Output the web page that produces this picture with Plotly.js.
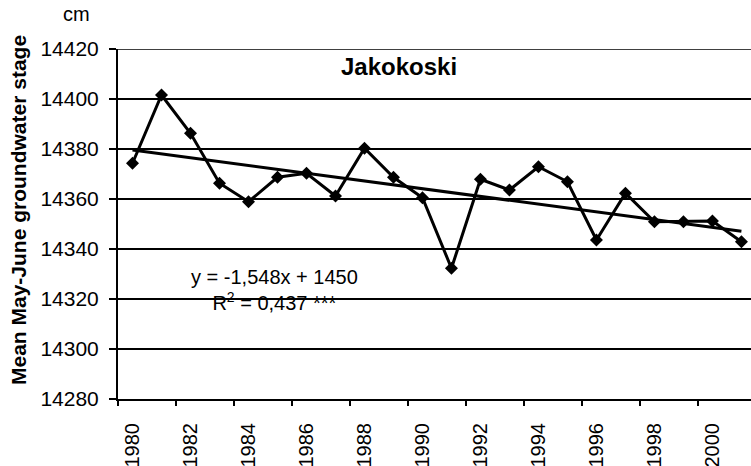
<!DOCTYPE html>
<html>
<head>
<meta charset="utf-8">
<script src="https://cdn.plot.ly/plotly-3.0.1.min.js"></script>
<style>html,body{margin:0;padding:0;background:#fff;}#chart{width:751px;height:466px;}</style>
</head>
<body>
<div id="chart"></div>
<script>
const years = [1980,1981,1982,1983,1984,1985,1986,1987,1988,1989,1990,1991,1992,1993,1994,1995,1996,1997,1998,1999,2000,2001];
const stage = [14374.3,14401.6,14386.3,14366.3,14358.9,14368.7,14370.3,14361.2,14380.3,14368.7,14360.5,14332.3,14367.9,14363.6,14372.9,14366.9,14343.6,14362.3,14350.9,14350.9,14351.2,14342.9];
const trendX = [1980, 2001];
const trendY = [14379.6, 14347.1];
const labelYears = [1980,1982,1984,1986,1988,1990,1992,1994,1996,1998,2000];
const tickMarks = [1979.5,1981.5,1983.5,1985.5,1987.5,1989.5,1991.5,1993.5,1995.5,1997.5,1999.5,2001.5];
const yTicks = [14280,14300,14320,14340,14360,14380,14400,14420];
const titleText = 'Jakokoski';
const yTitle = 'Mean May-June groundwater stage';
const unitText = 'cm';
const eqText = 'y = -1,548x + 1450<br>R<sup>2</sup> = 0,437 ***';

const FONT = 'Liberation Sans, Arial, sans-serif';
const xr = [1979.5, 2001.33];
const yr = [14280, 14420];

const data = [
  {x: years, y: stage, type: 'scatter', mode: 'lines+markers',
   line: {color: '#000', width: 3}, marker: {symbol: 'diamond', size: 10, color: '#000'},
   xaxis: 'x', yaxis: 'y', hoverinfo: 'skip'},
  {x: trendX, y: trendY, type: 'scatter', mode: 'lines',
   line: {color: '#000', width: 3}, xaxis: 'x2', yaxis: 'y', hoverinfo: 'skip'}
];

const layout = {
  width: 751, height: 466,
  margin: {l: 118, r: 0, t: 49, b: 67},
  paper_bgcolor: '#fff', plot_bgcolor: '#fff',
  showlegend: false,
  font: {family: FONT, color: '#000', size: 20},
  xaxis: {
    range: xr, tickmode: 'array', tickvals: labelYears, ticktext: labelYears.map(String),
    ticks: '', tickangle: -90, showgrid: false, zeroline: false,
    showline: true, linecolor: '#000', linewidth: 2,
    tickfont: {family: FONT, size: 20, color: '#000'}, ticklabelstandoff: 14
  },
  xaxis2: {
    range: xr, overlaying: 'x', tickmode: 'array', tickvals: tickMarks,
    ticks: 'outside', ticklen: 6, tickwidth: 1.5, tickcolor: '#000',
    showticklabels: false, showgrid: false, zeroline: false, showline: false
  },
  yaxis: {
    range: yr, tickmode: 'array', tickvals: yTicks, ticktext: yTicks.map(String),
    ticks: 'outside', ticklen: 7, tickwidth: 1.5, tickcolor: '#000',
    showgrid: true, gridcolor: '#000', gridwidth: 1.5, zeroline: false,
    showline: true, linecolor: '#000', linewidth: 2,
    tickfont: {family: FONT, size: 21, color: '#000'}, ticklabelstandoff: 6
  },
  shapes: [
    {type: 'line', xref: 'paper', yref: 'y', x0: 0, x1: 1, y0: yr[1], y1: yr[1],
     line: {color: '#000', width: 1.5}, layer: 'below'}
  ],
  annotations: [
    {text: titleText, xref: 'paper', yref: 'paper', x: 0.444, y: 0.951,
     xanchor: 'center', yanchor: 'middle', showarrow: false,
     font: {family: FONT, size: 24, color: '#000', weight: 'bold'}},
    {text: yTitle, xref: 'paper', yref: 'paper', x: 0, xshift: -100, y: 0.54,
     xanchor: 'center', yanchor: 'middle', textangle: -90, showarrow: false,
     font: {family: FONT, size: 21, color: '#000', weight: 'bold'}},
    {text: unitText, xref: 'paper', yref: 'paper', x: 0, xshift: -42, y: 1.1,
     xanchor: 'center', yanchor: 'middle', showarrow: false,
     font: {family: FONT, size: 20, color: '#000'}},
    {text: eqText, xref: 'x', yref: 'y', x: 1984.91, y: 14323.6,
     xanchor: 'center', yanchor: 'middle', showarrow: false, align: 'center',
     font: {family: FONT, size: 20, color: '#000'}}
  ]
};

Plotly.newPlot('chart', data, layout, {displayModeBar: false, staticPlot: true});
</script>
</body>
</html>
